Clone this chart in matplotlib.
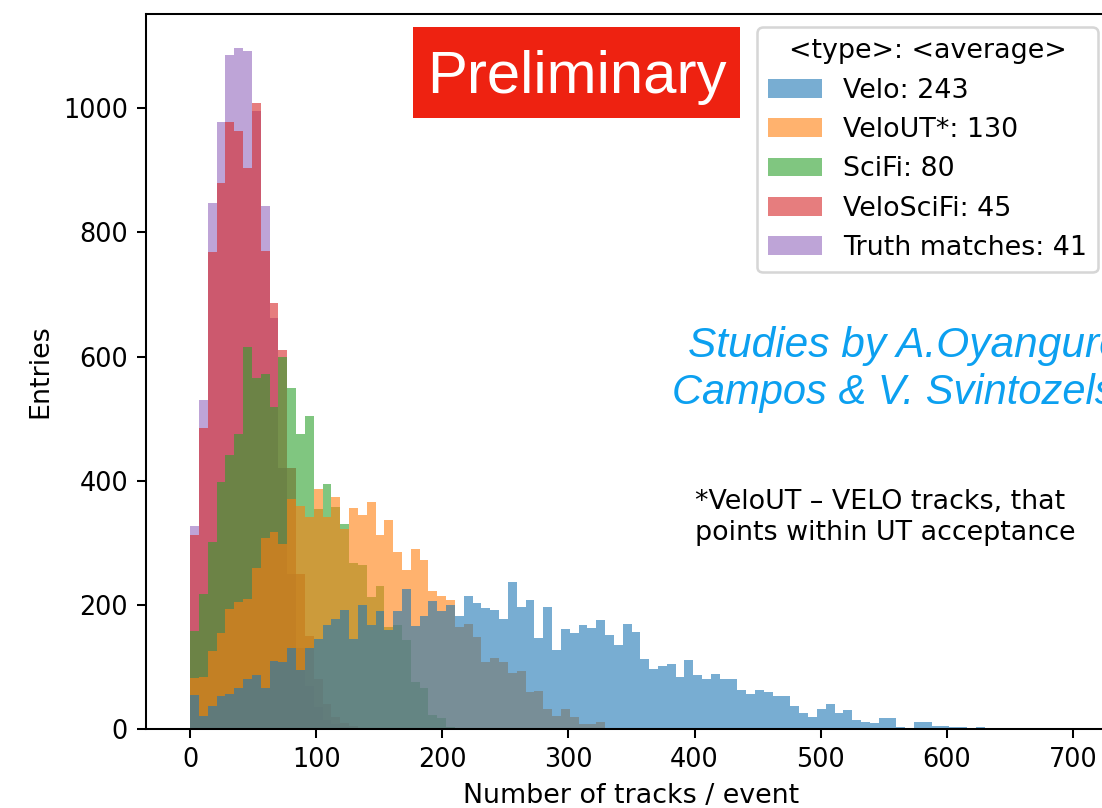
import numpy as np
import matplotlib
matplotlib.use("Agg")
import matplotlib.pyplot as plt
from matplotlib.patches import Rectangle

# histogram binning: 100 bins of 7 tracks
N_BINS = 100
X_RANGE = (0, 700)

# entries per bin, starting at the first bin (remaining bins are empty)
velo = [55, 21, 37, 53, 56, 66, 80, 87, 66, 110,
        108, 131, 95, 131, 145, 167, 178, 191, 145, 199,
        167, 190, 159, 190, 225, 166, 182, 207, 190, 199,
        182, 215, 203, 195, 191, 178, 237, 197, 208, 147,
        197, 127, 161, 154, 167, 162, 175, 151, 135, 169,
        157, 112, 96, 101, 105, 84, 111, 87, 80, 89,
        80, 81, 63, 57, 63, 60, 53, 53, 37, 25,
        19, 33, 41, 25, 31, 14, 11, 9, 17, 17,
        4, 1, 11, 11, 5, 5, 3, 3, 2, 3,
        0, 2]
velo_ut = [82, 84, 125, 154, 193, 205, 209, 259, 308, 318,
           298, 371, 360, 342, 386, 342, 373, 322, 356, 344,
           365, 312, 337, 285, 256, 290, 272, 222, 215, 208,
           164, 169, 148, 108, 115, 108, 90, 94, 60, 61,
           33, 21, 33, 19, 8, 8, 11, 2, 1, 0,
           2, 0, 2]
scifi = [158, 218, 301, 398, 442, 476, 616, 566, 572, 518,
         600, 550, 476, 504, 355, 395, 357, 330, 267, 264,
         213, 231, 164, 167, 143, 76, 66, 22, 18, 4,
         2]
velo_scifi = [312, 485, 769, 880, 978, 963, 903, 1008, 770, 687,
              611, 420, 250, 150, 80, 40, 20, 10, 5]
truth = [327, 530, 848, 978, 1085, 1097, 1093, 995, 842, 662,
         420, 250, 130, 70, 35, 15, 8, 4]

series = [velo, velo_ut, scifi, velo_scifi, truth]
labels = ["Velo: 243", "VeloUT*: 130", "SciFi: 80", "VeloSciFi: 45",
          "Truth matches: 41"]
colors = ["tab:blue", "tab:orange", "tab:green", "tab:red", "tab:purple"]

edges = np.linspace(X_RANGE[0], X_RANGE[1], N_BINS + 1)
centers = 0.5 * (edges[:-1] + edges[1:])


def padded(counts):
    arr = np.zeros(N_BINS)
    arr[:len(counts)] = counts
    return arr


DPI = 184
W, H = 1102, 808
fig = plt.figure(figsize=(W / DPI, H / DPI), dpi=DPI)
ax = fig.add_axes([146 / W, 79 / H, 971 / W, 715 / H])

# smallest sample first so the broad Velo distribution ends up on top
handles = []
for counts, label, color in reversed(list(zip(series, labels, colors))):
    _, _, patches = ax.hist(centers, bins=edges, weights=padded(counts),
                            color=color, alpha=0.6, label=label)
    handles.append(patches[0])
handles = handles[::-1]

ax.legend(handles, labels, title="<type>: <average>", loc="upper right",
          bbox_to_anchor=(0.994, 1.0), fontsize=10.5, title_fontsize=10.5,
          labelspacing=0.5)
ax.set_xlabel("Number of tracks / event", fontsize=10.5)
ax.set_ylabel("Entries", fontsize=10.5)

# slide overlays
fig.add_artist(Rectangle((413 / W, 1 - 118 / H), 327 / W, 91 / H,
                         transform=fig.transFigure, facecolor="#ee2211",
                         edgecolor="none"))
fig.text(577 / W, 1 - 93 / H, "Preliminary", color="white", fontsize=23.5,
         family="Liberation Sans", ha="center", va="baseline")

fig.text(688 / W, 1 - 357 / H, "Studies by A.Oyanguren", color="#0ca0f0",
         fontsize=16.6, family="Liberation Sans", style="italic",
         ha="left", va="baseline")
fig.text(672 / W, 1 - 404 / H, "Campos & V. Svintozelskyi", color="#0ca0f0",
         fontsize=16.3, family="Liberation Sans", style="italic",
         ha="left", va="baseline")

fig.text(695 / W, 1 - 518 / H,
         "*VeloUT \u2013 VELO tracks, that\npoints within UT acceptance",
         fontsize=10.5, ha="left", va="center", linespacing=1.25)

fig.savefig("out.png", dpi=DPI)
